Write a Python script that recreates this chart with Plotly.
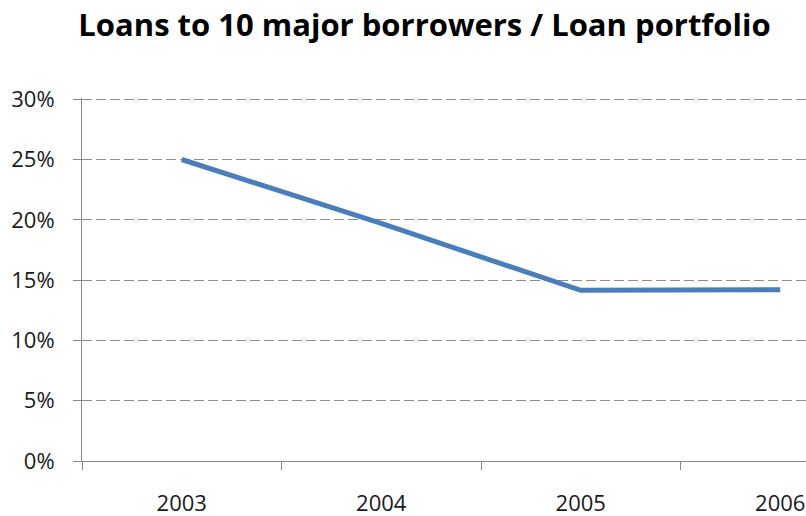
import plotly.graph_objects as go

# Share of the loan portfolio held by the 10 largest borrowers
years = ["2003", "2004", "2005", "2006"]
share = [0.250, 0.197, 0.1415, 0.142]

y_ticks = [0, 0.05, 0.10, 0.15, 0.20, 0.25, 0.30]
y_labels = ["0%", "5%", "10%", "15%", "20%", "25%", "30%"]

W, H = 806, 516
left, right, top, bottom = 82, 0, 98, 55
grid_color = "#8e8e8e"
axis_color = "#888888"
font_family = "Open Sans, Noto Sans, sans-serif"

fig = go.Figure(
    go.Scatter(
        x=years,
        y=share,
        mode="lines",
        line=dict(color="#4A7EBB", width=5),
        hoverinfo="skip",
    )
)

fig.update_layout(
    width=W,
    height=H,
    margin=dict(l=left, r=right, t=top, b=bottom, pad=0),
    paper_bgcolor="white",
    plot_bgcolor="white",
    showlegend=False,
    title=dict(
        text="<b>Loans to 10 major borrowers / Loan portfolio</b>",
        x=424.5 / W,
        xanchor="center",
        xref="container",
        y=1 - 25 / H,
        yref="container",
        yanchor="middle",
        font=dict(family=font_family, size=31, color="#000000"),
    ),
)

# plot width in category units: each year gets about 199.5 px
unit = 199.5
plot_w = W - left - right
fig.update_xaxes(
    type="category",
    range=[-0.5, -0.5 + plot_w / unit],
    showgrid=False,
    zeroline=False,
    showline=True,
    linecolor=axis_color,
    linewidth=1,
    ticks="outside",
    tickson="boundaries",
    ticklen=8,
    tickcolor=axis_color,
    tickwidth=1,
    ticklabelstandoff=23,
    tickfont=dict(family=font_family, size=22, color="#1a1a1a"),
)

# the range reaches just past 30% so its gridline is still drawn
fig.update_yaxes(
    range=[0, 0.301],
    tickvals=y_ticks,
    ticktext=y_labels,
    showgrid=True,
    gridcolor=grid_color,
    gridwidth=1,
    griddash="10px,4px",
    zeroline=False,
    showline=True,
    linecolor=axis_color,
    linewidth=1,
    ticks="outside",
    ticklen=8,
    tickcolor=axis_color,
    tickwidth=1,
    ticklabelstandoff=14,
    tickfont=dict(family=font_family, size=22, color="#1a1a1a"),
)

fig.write_html("out.html")
